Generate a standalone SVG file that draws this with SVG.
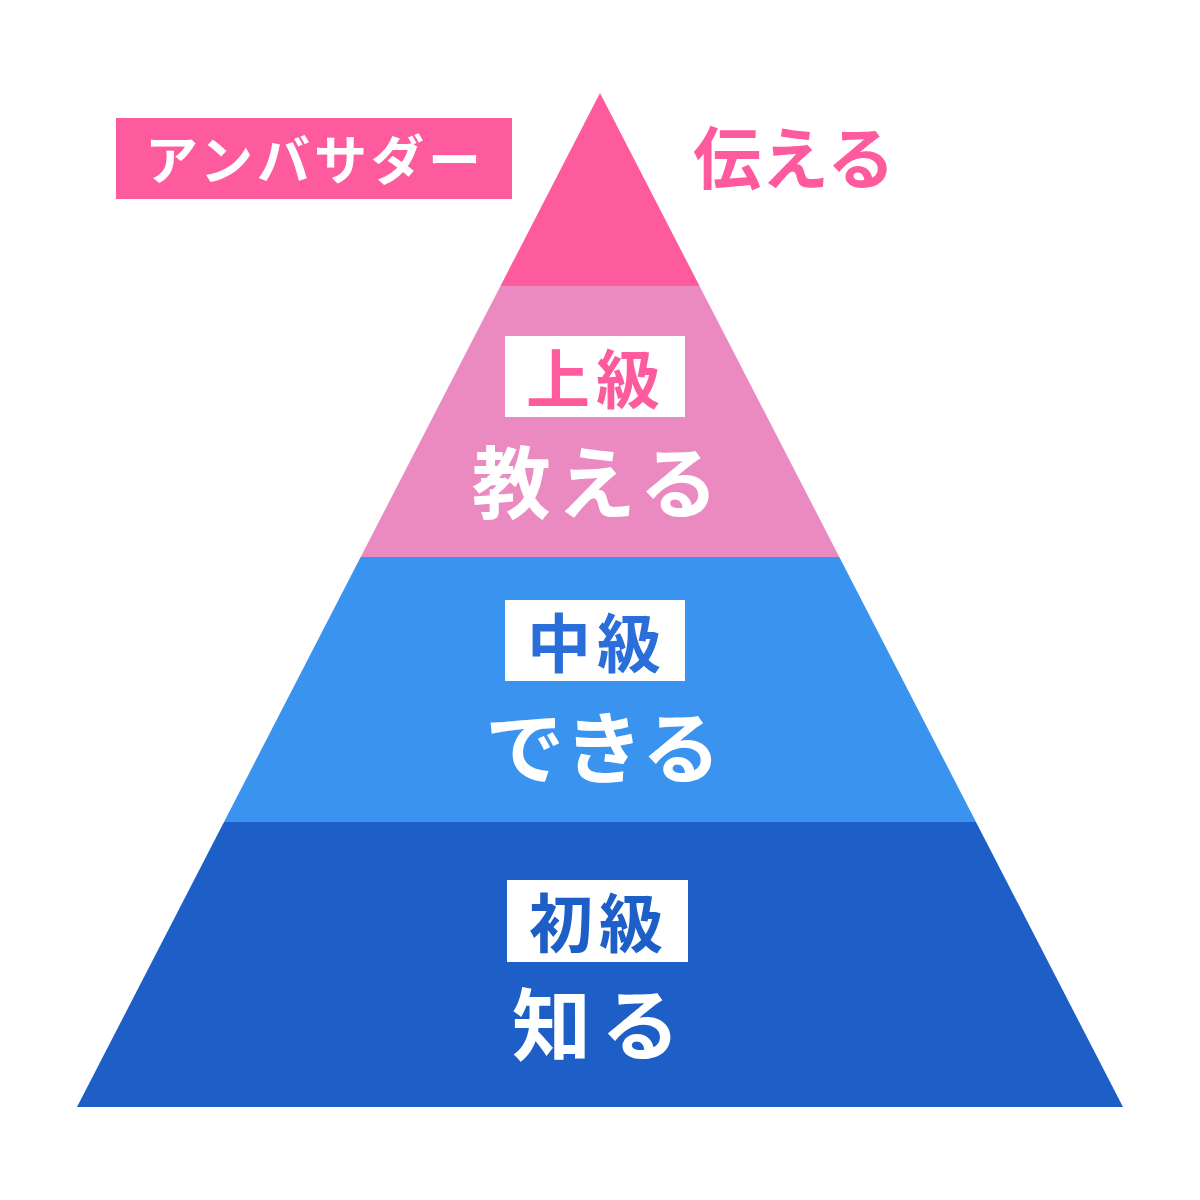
<svg xmlns="http://www.w3.org/2000/svg" width="1200" height="1200" viewBox="0 0 1200 1200">
<style>
text{font-family:"Noto Sans CJK JP","Noto Sans",sans-serif;font-weight:700;text-anchor:middle}
.w{fill:#ffffff}
.box{fill:#ffffff}
</style>
<rect width="1200" height="1200" fill="#ffffff"/>
<defs>
<clipPath id="tri"><polygon points="600,93 1123,1107 77,1107"/></clipPath>
</defs>
<g id="pyramid" clip-path="url(#tri)">
<rect id="band-ambassador" x="0" y="90" width="1200" height="196" fill="#FE5B9F"/>
<rect id="band-advanced" x="0" y="286" width="1200" height="271" fill="#EB8AC1"/>
<rect id="band-intermediate" x="0" y="557" width="1200" height="265" fill="#3A93EF"/>
<rect id="band-beginner" x="0" y="822" width="1200" height="286" fill="#1D5FC6"/>
</g>
<g id="ambassador">
<rect x="116" y="118" width="396" height="81" fill="#FE5B9F"/>
<text x="315" y="180" font-size="53" letter-spacing="4" class="w" font-weight="500">アンバサダー</text>
<text x="794" y="184" font-size="68" letter-spacing="0" fill="#FE5B9F">伝える</text>
</g>
<g id="advanced">
<rect x="505" y="336" width="180" height="81" class="box"/>
<text x="596" y="403" font-size="64" letter-spacing="6" fill="#FE5B9F">上級</text>
<text x="598" y="513" font-size="79" letter-spacing="6" class="w">教える</text>
</g>
<g id="intermediate">
<rect x="505" y="600" width="180" height="81" class="box"/>
<text x="597" y="667" font-size="64" letter-spacing="6" fill="#2A6FD9">中級</text>
<text x="603" y="778" font-size="79" letter-spacing="0" class="w">できる</text>
</g>
<g id="beginner">
<rect x="507" y="880" width="181" height="82" class="box"/>
<text x="599" y="947" font-size="64" letter-spacing="6" fill="#1D5FC6">初級</text>
<text x="601" y="1055" font-size="79" letter-spacing="10" class="w">知る</text>
</g>
</svg>
